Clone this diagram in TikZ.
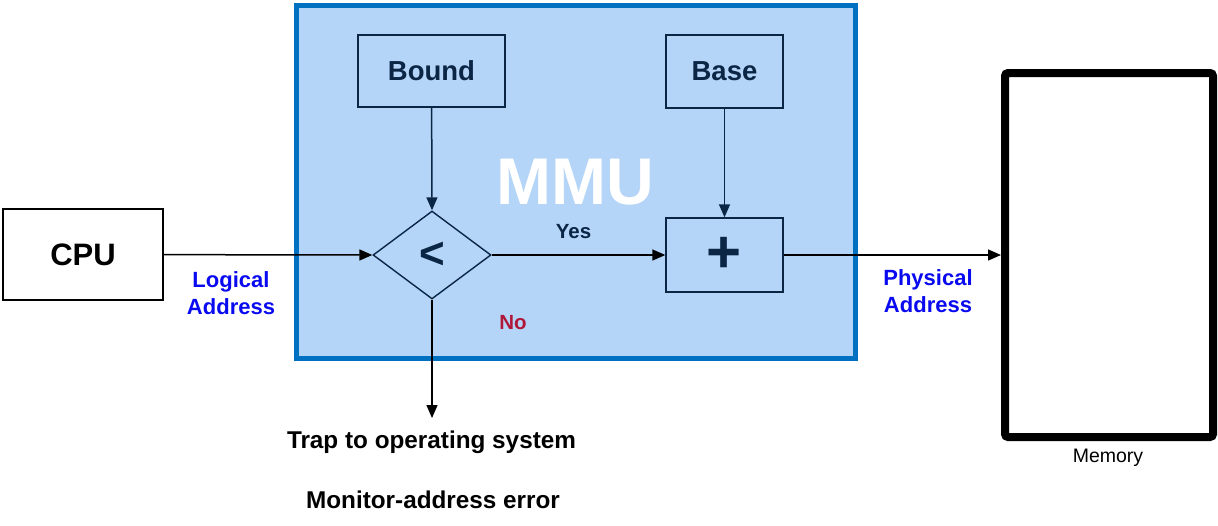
\documentclass[tikz,border=0pt]{standalone}
\usepackage{fontspec}
\setmainfont{Liberation Sans}
\usetikzlibrary{shapes.geometric,arrows.meta}
\definecolor{navy}{HTML}{0B2545}
\definecolor{mmufill}{HTML}{B4D5F7}
\definecolor{mmuedge}{HTML}{0070C0}
\definecolor{lblue}{HTML}{0A0AF0}
\definecolor{nored}{HTML}{B0183A}
\tikzset{
  inbox/.style={draw=navy, line width=1.4pt, text=navy, font=\fontsize{27.5}{30}\selectfont\bfseries, inner sep=0pt},
  conn/.style={line width=1.5pt, -{Triangle[length=13pt,width=11pt]}},
  blabel/.style={text=lblue, font=\fontsize{22}{27}\selectfont\bfseries, align=center},
  btext/.style={font=\fontsize{24.3}{27}\selectfont\bfseries},
}
\begin{document}
\begin{tikzpicture}[x=1pt,y=-1pt]
\useasboundingbox (0,0) rectangle (1218,525);
% MMU frame
\node[draw=mmuedge, fill=mmufill, line width=5pt, minimum width=559pt, minimum height=353pt, inner sep=0pt] (mmu) at (575.5,181.5) {};
% MMU title
\node[text=white, font=\fontsize{66}{66}\selectfont\bfseries] (mmutitle) at (575.5,182) {MMU};
% inner boxes
\node[inbox, minimum width=147pt, minimum height=72pt] (bound) at (431.5,71) {Bound};
\node[inbox, minimum width=117pt, minimum height=73pt] (base) at (724.5,71.5) {Base};
\node[inbox, minimum width=117pt, minimum height=74pt, font=\fontsize{60}{60}\selectfont\bfseries] (plus) at (724.5,255) {+};
\node[inbox, diamond, aspect=1.34, minimum width=118pt, minimum height=88pt, font=\fontsize{44}{44}\selectfont\bfseries] (cmp) at (432,255) {<};
% CPU and memory
\node[draw=black, line width=1.5pt, minimum width=160pt, minimum height=91pt, inner sep=0pt, font=\fontsize{31}{31}\selectfont\bfseries] (cpu) at (83,254.5) {CPU};
\node[draw=black, line width=8pt, rounded corners=3pt, minimum width=208pt, minimum height=364pt, inner sep=0pt] (mem) at (1109,255) {};
\node[font=\fontsize{19.5}{19.5}\selectfont] (memlbl) at (1108,458) {Memory};
% connectors
\draw[conn, draw=navy] (bound) -- (cmp.north);
\draw[conn, draw=navy] (base) -- (plus);
\draw[conn, draw=black] (cpu) -- (cmp.west);
\draw[conn, draw=black] (cmp.east) -- (plus.west);
\draw[conn, draw=black] (plus.east) -- (mem.west);
\coordinate (trapend) at (432,418);
\draw[conn, draw=black] (cmp.south) -- (trapend);
% labels
\node[text=navy, font=\fontsize{20.5}{20.5}\selectfont\bfseries] (yes) at (573.5,232) {Yes};
\node[text=nored, font=\fontsize{20.5}{20.5}\selectfont\bfseries] (no) at (513,323) {No};
\node[blabel] (logical) at (231,293) {Logical\\Address};
\node[blabel] (physical) at (928,291) {Physical\\Address};
\node[btext] (trap) at (431.5,442) {Trap to operating system};
\node[btext] (monitor) at (433,500) {Monitor-address error};
\end{tikzpicture}
\end{document}
